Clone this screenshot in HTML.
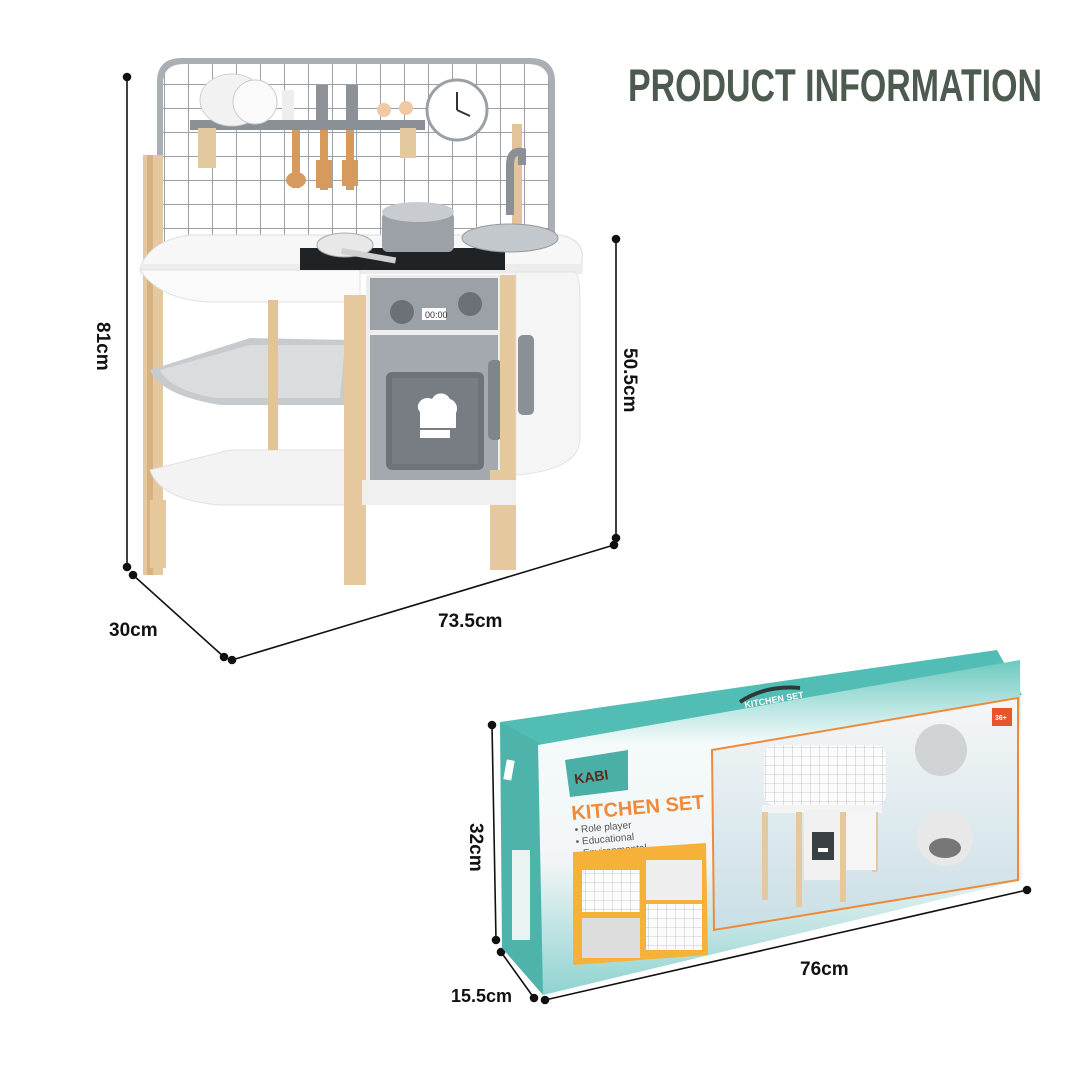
<!DOCTYPE html>
<html><head><meta charset="utf-8"><style>
html,body{margin:0;padding:0;background:#fff;}
svg{display:block}
</style></head><body>
<svg width="1080" height="1080" viewBox="0 0 1080 1080" xmlns="http://www.w3.org/2000/svg" font-family="Liberation Sans, sans-serif">
<defs>
<linearGradient id="front" x1="0" y1="0" x2="0" y2="1">
<stop offset="0" stop-color="#6cc9c0"/><stop offset="0.25" stop-color="#f4fbfa"/><stop offset="0.6" stop-color="#f2f5f7"/><stop offset="1" stop-color="#8fd3d0"/>
</linearGradient>
<linearGradient id="panel" x1="0" y1="0" x2="0" y2="1">
<stop offset="0" stop-color="#f6f6f7"/><stop offset="1" stop-color="#c9dfe6"/>
</linearGradient>
<pattern id="grid" width="24" height="24" patternUnits="userSpaceOnUse" x="164" y="60">
<rect width="24" height="24" fill="#fff"/><path d="M0 0H24M0 0V24" stroke="#9aa1a8" stroke-width="2"/>
</pattern>
<pattern id="grid2" width="9" height="9" patternUnits="userSpaceOnUse">
<rect width="9" height="9" fill="#fbfbfb"/><path d="M0 0H9M0 0V9" stroke="#b5b9bd" stroke-width="0.8"/>
</pattern>
</defs>

<text x="628" y="101" font-size="45" font-weight="bold" fill="#4d5a4f" textLength="414" lengthAdjust="spacingAndGlyphs">PRODUCT INFORMATION</text>

<g stroke="#111" stroke-width="1.6" fill="#111">
<line x1="127" y1="77" x2="127" y2="567"/><circle cx="127" cy="77" r="3.5"/><circle cx="127" cy="567" r="3.5"/>
<line x1="133" y1="575" x2="224" y2="657"/><circle cx="133" cy="575" r="3.5"/><circle cx="224" cy="657" r="3.5"/>
<line x1="232" y1="660" x2="614" y2="545"/><circle cx="232" cy="660" r="3.5"/><circle cx="614" cy="545" r="3.5"/>
<line x1="616" y1="239" x2="616" y2="538"/><circle cx="616" cy="239" r="3.5"/><circle cx="616" cy="538" r="3.5"/>
</g>
<text x="0" y="0" font-size="19" font-weight="bold" fill="#111" transform="translate(97,322) rotate(90)">81cm</text>
<text x="109" y="636" font-size="19" font-weight="bold" fill="#111">30cm</text>
<text x="438" y="627" font-size="19" font-weight="bold" fill="#111">73.5cm</text>
<text x="0" y="0" font-size="19" font-weight="bold" fill="#111" transform="translate(624,348) rotate(90)">50.5cm</text>

<!-- kitchen -->
<path d="M157 252 V82 Q157 58 182 58 H530 Q555 58 555 82 V252 Z" fill="#a9afb5"/>
<path d="M163 252 V84 Q163 64 184 64 H528 Q549 64 549 84 V252 Z" fill="url(#grid)"/>
<rect x="190" y="120" width="235" height="10" fill="#8a9096"/>
<rect x="198" y="128" width="18" height="40" fill="#e3c9a0"/>
<rect x="400" y="128" width="16" height="30" fill="#e3c9a0"/>
<ellipse cx="232" cy="100" rx="32" ry="26" fill="#f2f2f2" stroke="#cfcfcf"/>
<ellipse cx="255" cy="102" rx="22" ry="22" fill="#fafafa" stroke="#ccc"/>
<rect x="282" y="90" width="12" height="30" fill="#eee"/>
<rect x="316" y="85" width="12" height="35" fill="#8c9298"/>
<rect x="346" y="85" width="12" height="35" fill="#8c9298"/>
<circle cx="384" cy="110" r="7" fill="#f0c9a5"/><circle cx="406" cy="108" r="7" fill="#f0c9a5"/>
<rect x="292" y="130" width="8" height="58" fill="#d59a5c"/><ellipse cx="296" cy="180" rx="10" ry="8" fill="#d59a5c"/>
<rect x="320" y="130" width="8" height="60" fill="#d59a5c"/><rect x="316" y="160" width="16" height="28" fill="#d59a5c"/>
<rect x="346" y="130" width="8" height="60" fill="#d59a5c"/><rect x="342" y="160" width="16" height="26" fill="#d59a5c"/>
<circle cx="457" cy="110" r="30" fill="#fff" stroke="#9aa0a6" stroke-width="3"/>
<line x1="457" y1="110" x2="457" y2="92" stroke="#333" stroke-width="2"/><line x1="457" y1="110" x2="470" y2="116" stroke="#333" stroke-width="2"/>
<rect x="512" y="124" width="10" height="130" fill="#e3c39a"/>
<rect x="143" y="155" width="20" height="420" fill="#e6c89e"/>
<rect x="147" y="155" width="6" height="420" fill="#d7b17f"/>
<path d="M510 215 V165 Q510 150 522 152 V165" stroke="#8a9096" stroke-width="8" fill="none"/>
<path d="M140 268 Q150 240 190 235 H560 Q585 240 582 260 V270 H140 Z" fill="#f7f7f7" stroke="#ddd"/>
<rect x="140" y="264" width="442" height="10" fill="#ececec"/>
<path d="M140 270 Q160 300 210 302 H360 V270 Z" fill="#fafafa" stroke="#e0e0e0"/>
<rect x="300" y="248" width="205" height="22" fill="#1f2326"/>
<ellipse cx="345" cy="245" rx="28" ry="12" fill="#e8e8e8" stroke="#aaa"/>
<rect x="342" y="248" width="55" height="6" fill="#d0d0d0" transform="rotate(10 342 248)"/>
<rect x="382" y="212" width="72" height="40" rx="6" fill="#9ba1a7"/>
<ellipse cx="418" cy="212" rx="36" ry="10" fill="#c8ccd0"/>
<ellipse cx="510" cy="238" rx="48" ry="14" fill="#c3c8cc" stroke="#999"/>
<path d="M150 370 Q160 395 220 405 H350 V340 L250 338 Z" fill="#c8cbce"/>
<path d="M160 370 L250 345 H345 L340 398 H215 Q170 390 160 370Z" fill="#dadcde"/>
<path d="M150 470 Q160 500 220 505 H350 V450 H230Z" fill="#f3f3f3" stroke="#e0e0e0"/>
<rect x="268" y="300" width="10" height="150" fill="#e3c39a"/>
<rect x="344" y="295" width="22" height="290" fill="#e6c89e"/>
<rect x="150" y="500" width="16" height="68" fill="#e6c89e"/>
<rect x="366" y="275" width="136" height="230" fill="#eeeeee"/>
<rect x="370" y="278" width="128" height="52" fill="#9ba1a7"/>
<circle cx="402" cy="312" r="12" fill="#6b7177"/><circle cx="470" cy="304" r="12" fill="#6b7177"/>
<rect x="422" y="308" width="24" height="12" fill="#fff"/>
<text x="425" y="318" font-size="9" fill="#333">00:00</text>
<rect x="370" y="335" width="128" height="165" fill="#a3a9ae"/>
<rect x="386" y="372" width="98" height="98" rx="6" fill="#6d7379"/>
<rect x="392" y="378" width="86" height="86" fill="#777d83"/>
<path d="M418 405 a10 10 0 0 1 14 -6 a10 10 0 0 1 18 0 a10 10 0 0 1 6 14 V428 H420 V412 a8 8 0 0 1 -2 -7Z" fill="#fff"/>
<rect x="420" y="430" width="30" height="8" fill="#fff"/>
<rect x="488" y="360" width="14" height="80" rx="5" fill="#7f858b"/>
<rect x="500" y="275" width="16" height="295" fill="#e6c89e"/>
<path d="M516 272 H575 Q580 275 580 300 V440 Q578 470 516 475 Z" fill="#f5f5f5" stroke="#e2e2e2"/>
<rect x="518" y="335" width="16" height="80" rx="5" fill="#8a9096"/>
<rect x="490" y="470" width="18" height="100" fill="#e6c89e"/>
<path d="M362 505 H516 V480 H362Z" fill="#f0f0f0"/>

<g stroke="#111" stroke-width="1.6" fill="#111">
<line x1="492" y1="725" x2="496" y2="940"/><circle cx="492" cy="725" r="3.5"/><circle cx="496" cy="940" r="3.5"/>
<line x1="501" y1="952" x2="534" y2="998"/><circle cx="501" cy="952" r="3.5"/><circle cx="534" cy="998" r="3.5"/>
<line x1="545" y1="1000" x2="1027" y2="890"/><circle cx="545" cy="1000" r="3.5"/><circle cx="1027" cy="890" r="3.5"/>
</g>
<text x="0" y="0" font-size="19" font-weight="bold" fill="#111" transform="translate(470,823) rotate(90)">32cm</text>
<text x="451" y="1002" font-size="18" font-weight="bold" fill="#111">15.5cm</text>
<text x="800" y="975" font-size="19" font-weight="bold" fill="#111">76cm</text>

<!-- box -->
<path d="M500 722 L997 650 L1022 695 L543 750 Z" fill="#52bdb4"/>
<path d="M500 722 L543 745 L543 995 L502 948 Z" fill="#4db3ab"/>
<rect x="505" y="760" width="8" height="20" fill="#fff" transform="rotate(10 509 770)"/>
<rect x="512" y="850" width="18" height="90" fill="#e9f3f2"/>
<path d="M538 745 L1020 660 L1022 880 L543 995 Z" fill="url(#front)"/>
<path d="M565 760 L628 750 L628 790 L570 797 Z" fill="#4aafa7"/>
<text x="575" y="784" font-size="14" font-weight="bold" fill="#5a2a1a" transform="rotate(-8 575 784)">KABI</text>
<text x="572" y="820" font-size="20" font-weight="bold" fill="#ef8a3a" transform="rotate(-5 572 820)">KITCHEN SET</text>
<g font-size="10" fill="#555" transform="rotate(-5 575 833)">
<text x="575" y="833">• Role player</text><text x="575" y="845">• Educational</text><text x="575" y="857">• Environmental</text>
</g>
<path d="M573 852 L706 843 L708 955 L573 965 Z" fill="#f6b13a"/>
<rect x="582" y="870" width="58" height="42" fill="url(#grid2)"/>
<rect x="646" y="860" width="56" height="40" fill="#eeeeee"/>
<rect x="582" y="918" width="58" height="40" fill="#ddd"/>
<rect x="646" y="904" width="56" height="46" fill="url(#grid2)"/>
<path d="M712 750 L1018 698 L1018 880 L714 930 Z" fill="url(#panel)" stroke="#ef8a3a" stroke-width="2"/>
<rect x="764" y="745" width="122" height="60" rx="10" fill="url(#grid2)"/>
<rect x="762" y="805" width="120" height="8" fill="#f4f4f4"/>
<rect x="762" y="812" width="6" height="88" fill="#e6c89e"/>
<rect x="796" y="812" width="6" height="95" fill="#e6c89e"/>
<rect x="840" y="812" width="6" height="90" fill="#e6c89e"/>
<rect x="872" y="812" width="6" height="60" fill="#e6c89e"/>
<rect x="804" y="810" width="36" height="70" fill="#f1f1f1"/>
<rect x="812" y="832" width="22" height="28" fill="#3a3f44"/>
<path d="M818 848 h10 v4 h-10z" fill="#fff"/>
<rect x="846" y="810" width="30" height="60" fill="#f5f5f5"/>
<circle cx="941" cy="750" r="26" fill="#cfd3d6"/>
<circle cx="945" cy="838" r="28" fill="#e8e8e8"/>
<ellipse cx="945" cy="848" rx="16" ry="10" fill="#777"/>
<rect x="992" y="708" width="20" height="18" fill="#e8552a"/>
<text x="995" y="720" font-size="7" font-weight="bold" fill="#fff">36+</text>
<path d="M740 702 Q765 685 800 688" stroke="#2b3a3a" stroke-width="4" fill="none"/>
<text x="745" y="708" font-size="9" font-weight="bold" fill="#fff" transform="rotate(-10 745 708)">KITCHEN SET</text>
</svg>
</body></html>
